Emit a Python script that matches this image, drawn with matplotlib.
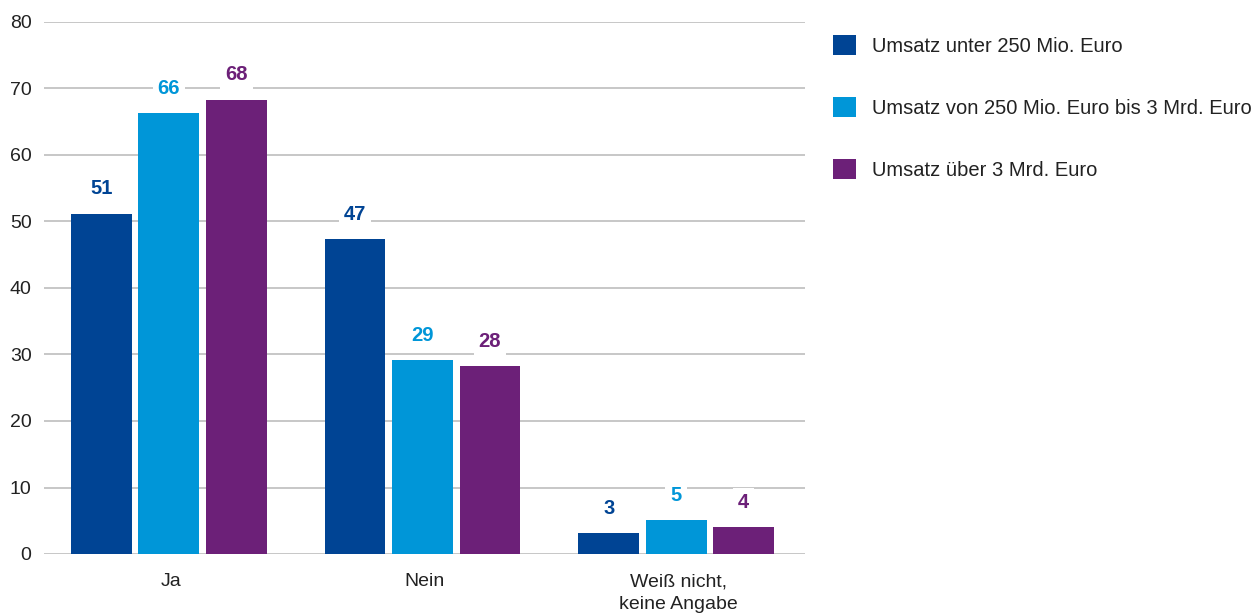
import numpy as np
import matplotlib.pyplot as plt
from matplotlib.patches import Patch

plt.rcParams['font.family'] = ['Liberation Sans', 'DejaVu Sans']

# Daten
kategorien = ['Ja', 'Nein', 'Weiß nicht,\nkeine Angabe']
serien = ['Umsatz unter 250 Mio. Euro',
          'Umsatz von 250 Mio. Euro bis 3 Mrd. Euro',
          'Umsatz über 3 Mrd. Euro']
werte_klein = [51.2, 47.3, 3.15]
werte_mittel = [66.3, 29.1, 5.1]
werte_gross = [68.3, 28.2, 4.05]
beschriftung_klein = [51, 47, 3]
beschriftung_mittel = [66, 29, 5]
beschriftung_gross = [68, 28, 4]
farben = ['#004494', '#0096d8', '#6c2078']
y_ticks = [0, 10, 20, 30, 40, 50, 60, 70, 80]

fig = plt.figure(figsize=(12.53, 6.14), dpi=100)
ax = fig.add_axes([44 / 1253, 60 / 614, 761 / 1253, 532 / 614])

x = np.arange(len(kategorien))
breite = 0.24
abstand = 0.266
alle_werte = [werte_klein, werte_mittel, werte_gross]
alle_beschr = [beschriftung_klein, beschriftung_mittel, beschriftung_gross]

for i, (werte, beschr) in enumerate(zip(alle_werte, alle_beschr)):
    pos = x + (i - 1) * abstand - 0.008
    ax.bar(pos, werte, width=breite, color=farben[i], zorder=3, label=serien[i])
    for px, v, b in zip(pos, werte, beschr):
        ax.annotate(str(b), (px, v), xytext=(0, 18), textcoords='offset points',
                    ha='center', va='center', fontsize=14.5, fontweight='bold',
                    color=farben[i], zorder=4,
                    bbox=dict(boxstyle='square,pad=0.25', fc='white', ec='none'))

ax.set_xlim(-0.5, 2.5)
ax.set_ylim(0, 80)
ax.set_yticks(y_ticks)
ax.set_xticks(x)
ax.set_xticklabels(kategorien, linespacing=1.4)
ax.tick_params(axis='both', length=0, labelsize=14, colors='#222222')
ax.tick_params(axis='y', pad=9)
ax.tick_params(axis='x', pad=14)
ax.grid(axis='y', color='#bdbdbd', linewidth=1.2, zorder=0)
for s in ax.spines.values():
    s.set_visible(False)

handles = [Patch(facecolor=c, edgecolor='none') for c in farben]
fig.legend(handles, serien, loc='upper left',
           bbox_to_anchor=(833 / 1253, 1 - 35 / 614),
           frameon=False, fontsize=14.5, borderpad=0, borderaxespad=0,
           handlelength=1.15, handleheight=1.15, handletextpad=0.8,
           labelspacing=2.05, labelcolor='#222222')

fig.savefig('out.png', dpi=100)
